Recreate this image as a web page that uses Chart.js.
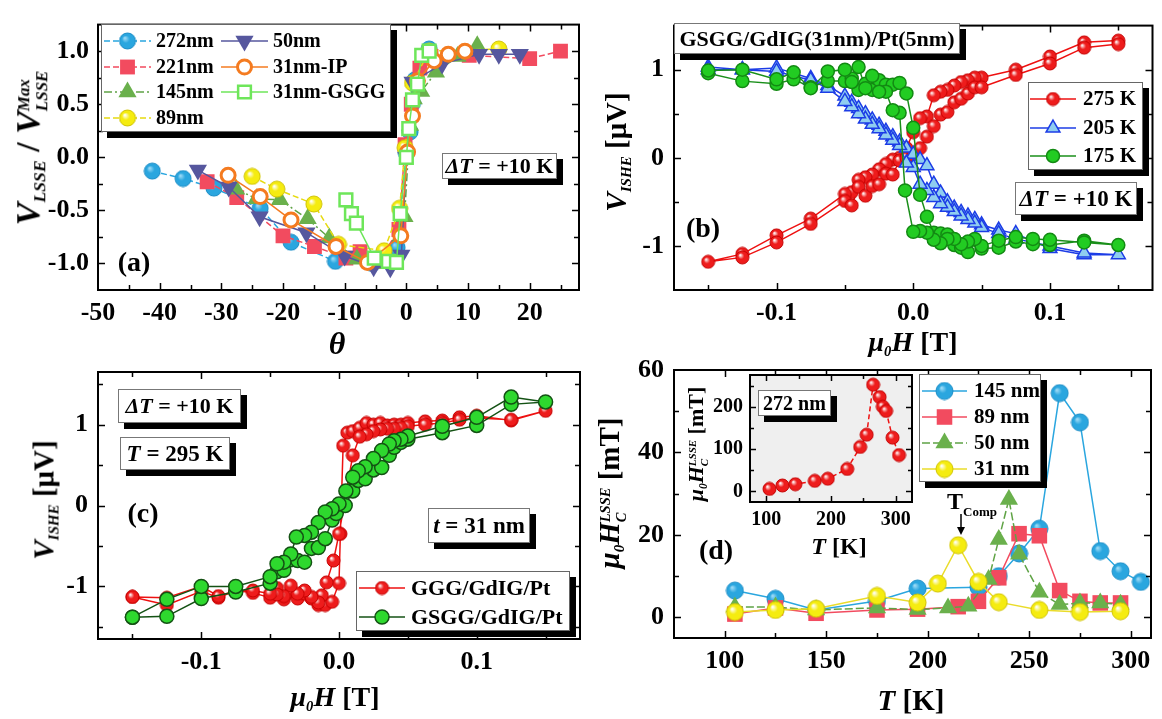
<!DOCTYPE html>
<html>
<head>
<meta charset="utf-8">
<script src="https://cdn.jsdelivr.net/npm/chart.js@4.4.1/dist/chart.umd.min.js"></script>
<style>
  html, body { margin: 0; padding: 0; background: #fff; }
  #fig { position: relative; width: 1162px; height: 719px; overflow: hidden; background: #fff;
         font-family: "Liberation Serif", "Times New Roman", serif; font-weight: bold; color: #000; }
  #fig canvas { position: absolute; left: 0; top: 0; }
  .box { position: absolute; background: #fff; border: 1px solid #777; box-shadow: 6px 6px 0 #000;
         display: flex; align-items: center; justify-content: center; white-space: nowrap; box-sizing: border-box; }
  .lbl { position: absolute; white-space: nowrap; transform: translate(-50%, -50%); line-height: 1; }
  .rot { transform: translate(-50%, -50%) rotate(-90deg); }
  .sb { font-size: 0.52em; position: relative; top: 0.35em; font-style: italic; }
  .stk { display: inline-block; vertical-align: -0.45em; font-size: 0.5em; font-style: italic; line-height: 1.05; text-align: left; }
  .stk span { display: block; }
  i { font-style: italic; }
</style>
</head>
<body>
<div id="fig">
  <canvas id="ca" width="1162" height="719"></canvas>
  <canvas id="cb" width="1162" height="719"></canvas>
  <canvas id="cc" width="1162" height="719"></canvas>
  <canvas id="cd" width="1162" height="719"></canvas>
  <canvas id="ci" width="1162" height="719"></canvas>

  <!-- panel (a) -->
  <div class="lbl rot" style="left:31px;top:148px;font-size:34px;"><i>V</i><span class="sb">LSSE</span> / <i>V</i><span class="stk"><span>Max</span><span>LSSE</span></span></div>
  <div class="lbl" style="left:337px;top:343px;font-size:32px;"><i>θ</i></div>
  <div class="lbl" style="left:134px;top:262px;font-size:28px;">(a)</div>
  <div class="box" style="left:442px;top:153px;width:115px;height:26px;font-size:22px;"><span><i>ΔT</i> = +10 K</span></div>

  <!-- panel (b) -->
  <div class="lbl rot" style="left:616px;top:152px;font-size:29px;"><i>V</i><span class="sb">ISHE</span> [μV]</div>
  <div class="lbl" style="left:913px;top:342px;font-size:28px;"><i>μ</i><span class="sb">0</span><i>H</i> [T]</div>
  <div class="lbl" style="left:703px;top:228px;font-size:28px;">(b)</div>
  <div class="box" style="left:674px;top:23px;width:286px;height:31px;font-size:22px;">GSGG/GdIG(31nm)/Pt(5nm)</div>
  <div class="box" style="left:1015px;top:182px;width:122px;height:33px;font-size:23px;"><span><i>ΔT</i> = +10 K</span></div>

  <!-- panel (c) -->
  <div class="lbl rot" style="left:44px;top:500px;font-size:29px;"><i>V</i><span class="sb">ISHE</span> [μV]</div>
  <div class="lbl" style="left:335px;top:697px;font-size:28px;"><i>μ</i><span class="sb">0</span><i>H</i> [T]</div>
  <div class="lbl" style="left:143px;top:513px;font-size:28px;">(c)</div>
  <div class="box" style="left:118px;top:389px;width:123px;height:34px;font-size:22px;"><span><i>ΔT</i> = +10 K</span></div>
  <div class="box" style="left:120px;top:437px;width:110px;height:33px;font-size:23px;"><span><i>T</i> = 295 K</span></div>
  <div class="box" style="left:428px;top:508px;width:102px;height:35px;font-size:23px;"><span><i>t</i> = 31 nm</span></div>

  <!-- panel (d) -->
  <div class="lbl rot" style="left:612px;top:493px;font-size:29px;"><i>μ</i><span class="sb">0</span><i>H</i><span class="stk"><span>LSSE</span><span>C</span></span> [mT]</div>
  <div class="lbl" style="left:911px;top:700px;font-size:29px;"><i>T</i> [K]</div>
  <div class="lbl" style="left:716px;top:550px;font-size:28px;">(d)</div>
  <div style="position:absolute;left:947px;top:489px;font-size:24px;white-space:nowrap;line-height:1;">T<span style="font-size:13px;position:relative;top:7px;">Comp</span></div>
  <svg style="position:absolute;left:955px;top:514px;" width="12" height="22" viewBox="0 0 12 22">
    <line x1="6" y1="0" x2="6" y2="15" stroke="#000" stroke-width="1.5"/>
    <polygon points="2,13 10,13 6,21" fill="#000"/>
  </svg>

  <!-- inset -->
  <div class="lbl rot" style="left:698px;top:444px;font-size:22px;"><i>μ</i><span class="sb">0</span><i>H</i><span class="stk"><span>LSSE</span><span>C</span></span> [mT]</div>
  <div class="lbl" style="left:839px;top:546px;font-size:24px;"><i>T</i> [K]</div>
  <div class="box" style="left:758px;top:390px;width:73px;height:26px;font-size:20px;">272 nm</div>
</div>

<script>
// ---------- panel (a): normalised LSSE voltage vs angle ----------
const thetaA272 = [-41.2, -36.2, -31.2, -23.7, -18.7, -11.5, -5.5, -1.5, 0, 0.6, 1.0, 1.4, 3.7];
const vA272     = [-0.13, -0.20, -0.29, -0.48, -0.80, -0.98, -1.00, -0.85, 0.04, 0.24, 0.51, 0.73, 1.02];
const thetaA221 = [-32.3, -27.5, -20, -14.9, -9.8, -7.5, -4.5, -1.2, -0.2, 0.8, 2.2, 4, 10.2, 20, 25];
const vA221     = [-0.23, -0.38, -0.74, -0.84, -0.95, -0.89, -0.98, -0.68, 0.12, 0.50, 0.84, 0.95, 0.96, 0.93, 1.00];
const thetaA145 = [-27.6, -24.3, -20.5, -16, -12.5, -8, -4, -0.3, 0.6, 1.2, 2.4, 4.8, 8.3, 11.5];
const vA145     = [-0.30, -0.39, -0.40, -0.58, -0.76, -0.96, -1.00, -0.56, 0.30, 0.55, 0.62, 0.80, 0.95, 1.05];
const thetaA89  = [-25, -21, -15, -11, -3.6, -1.1, -0.2, 1, 3.7, 15];
const vA89      = [-0.18, -0.30, -0.44, -0.82, -0.88, -0.48, 0.09, 0.70, 1.00, 1.02];
const thetaA50  = [-33.8, -28.8, -23.8, -16.2, -10, -5.3, -2.6, -0.8, 0, 1, 5.8, 11.8, 15, 18.4];
const vA50      = [-0.12, -0.28, -0.56, -0.71, -0.93, -1.03, -1.04, -0.92, 0.00, 0.71, 0.88, 0.97, 0.97, 0.97];
const thetaAIP  = [-28.9, -23.7, -18.7, -11.4, -6.3, -0.9, 0.2, 1.0, 1.8, 4.5, 6.8, 9.5];
const vAIP      = [-0.17, -0.37, -0.59, -0.84, -0.99, -0.74, 0.05, 0.39, 0.72, 0.91, 0.97, 1.00];
const thetaAGS  = [-9.8, -8.9, -8.1, -5.2, -2.9, -1.6, -1.0, 0.0, 0.4, 1.0, 1.8, 2.5, 3.7];
const vAGS      = [-0.40, -0.53, -0.62, -0.95, -0.98, -0.99, -0.53, 0.00, 0.27, 0.54, 0.69, 0.96, 1.00];
const ticksAX = [-50, -40, -30, -20, -10, 0, 10, 20];
const ticksAY = [-1.0, -0.5, 0.0, 0.5, 1.0];

// ---------- panel (b): ISHE loops of GSGG/GdIG(31nm)/Pt(5nm) ----------
const hB275 = [0.15, 0.125, 0.1, 0.075, 0.05, 0.045, 0.04, 0.035, 0.03, 0.025, 0.02, 0.015, 0.01, 0.005, 0, -0.005, -0.01, -0.015, -0.02, -0.025, -0.03, -0.035, -0.04, -0.045, -0.05, -0.075, -0.1, -0.125, -0.15,
               -0.125, -0.1, -0.075, -0.05, -0.045, -0.04, -0.035, -0.03, -0.025, -0.02, -0.015, -0.01, -0.005, 0, 0.005, 0.01, 0.015, 0.02, 0.025, 0.03, 0.035, 0.04, 0.045, 0.05, 0.075, 0.1, 0.125, 0.15];
const vB275 = [1.33, 1.31, 1.15, 1.00, 0.91, 0.91, 0.88, 0.86, 0.82, 0.77, 0.75, 0.71, 0.47, 0.45, 0.29, 0.11, 0.00, -0.02, -0.07, -0.13, -0.19, -0.22, -0.25, -0.39, -0.41, -0.69, -0.88, -1.09, -1.18,
               -1.13, -0.96, -0.75, -0.49, -0.54, -0.33, -0.43, -0.32, -0.30, -0.18, -0.19, -0.03, 0.00, 0.03, 0.11, 0.24, 0.36, 0.49, 0.52, 0.63, 0.67, 0.73, 0.80, 0.80, 0.94, 1.07, 1.25, 1.29];
const hB205 = [-0.15, -0.125, -0.1, -0.075, -0.0625, -0.05, -0.045, -0.04, -0.035, -0.03, -0.025, -0.02, -0.015, -0.01, -0.005, 0, 0.005, 0.01, 0.015, 0.02, 0.025, 0.03, 0.035, 0.04, 0.045, 0.05, 0.0625, 0.075, 0.1, 0.125, 0.15,
               0.125, 0.1, 0.075, 0.0625, 0.05, 0.045, 0.04, 0.035, 0.03, 0.025, 0.02, 0.015, 0.01, 0.005, 0, -0.005, -0.01, -0.015, -0.02, -0.025, -0.03, -0.035, -0.04, -0.045, -0.05, -0.0625, -0.075, -0.1, -0.125, -0.15];
const vB205 = [1.03, 1.00, 1.02, 0.90, 0.82, 0.70, 0.63, 0.56, 0.50, 0.43, 0.37, 0.30, 0.24, 0.18, 0.11, 0.04, -0.02, -0.09, -0.30, -0.40, -0.50, -0.57, -0.62, -0.66, -0.70, -0.76, -0.82, -0.86, -1.03, -1.10, -1.10,
               -1.08, -1.00, -0.92, -0.86, -0.79, -0.74, -0.70, -0.66, -0.61, -0.56, -0.52, -0.45, -0.37, -0.30, -0.11, -0.06, 0.14, 0.20, 0.26, 0.33, 0.38, 0.44, 0.50, 0.58, 0.64, 0.79, 0.88, 0.98, 1.00, 1.00];
const hB175 = [-0.15, -0.125, -0.1, -0.0875, -0.075, -0.0625, -0.05, -0.045, -0.04, -0.035, -0.03, -0.025, -0.02, -0.015, -0.01, -0.005, 0, 0.005, 0.01, 0.015, 0.02, 0.025, 0.03, 0.035, 0.04, 0.045, 0.05, 0.0625, 0.075, 0.0875, 0.1, 0.125, 0.15,
               0.125, 0.1, 0.0875, 0.075, 0.0625, 0.05, 0.045, 0.04, 0.035, 0.03, 0.025, 0.02, 0.015, 0.01, 0.005, 0, -0.006, -0.01, -0.015, -0.02, -0.025, -0.03, -0.035, -0.04, -0.045, -0.05, -0.0625, -0.075, -0.0875, -0.1, -0.125, -0.15];
const vB175 = [0.96, 0.87, 0.84, 0.89, 0.80, 0.87, 0.87, 0.90, 0.77, 0.84, 0.77, 0.88, 0.83, 0.83, 0.85, 0.73, 0.34, -0.42, -0.67, -0.85, -0.86, -0.87, -0.99, -1.02, -1.07, -0.93, -1.03, -1.02, -0.95, -0.98, -0.99, -0.94, -0.99,
               -0.96, -0.93, -0.92, -0.90, -0.94, -1.00, -0.92, -0.95, -0.98, -0.92, -0.92, -0.97, -0.93, -0.85, -0.83, -0.84, -0.37, 0.51, 0.54, 0.75, 0.75, 0.93, 0.79, 1.03, 0.86, 1.00, 0.98, 0.79, 0.97, 0.89, 1.00, 0.99];
const ticksBX = [-0.1, 0.0, 0.1];
const ticksBY = [-1, 0, 1];

// ---------- panel (c): ISHE loops at 295 K, t = 31 nm ----------
const hCGGG = [-0.15, -0.125, -0.1, -0.0875, -0.075, -0.0625, -0.05, -0.045, -0.04, -0.035, -0.03, -0.025, -0.02, -0.015, -0.01, -0.005, 0, 0.001, 0.003, 0.006, 0.01, 0.015, 0.02, 0.025, 0.03, 0.035, 0.04, 0.045, 0.05, 0.0625, 0.075, 0.0875, 0.1, 0.125, 0.15,
               0.125, 0.1, 0.0875, 0.075, 0.0625, 0.05, 0.045, 0.04, 0.035, 0.03, 0.025, 0.02, 0.015, 0.01, 0.0, -0.004, -0.009, -0.0125, -0.015, -0.02, -0.025, -0.03, -0.035, -0.04, -0.045, -0.05, -0.0625, -0.075, -0.0875, -0.1, -0.125, -0.15];
const vCGGG = [-1.13, -1.23, -1.06, -1.14, -1.05, -1.08, -1.14, -1.02, -1.16, -1.07, -1.15, -1.09, -1.15, -1.23, -1.23, -1.19, -0.96, -0.35, 0.74, 0.90, 0.92, 0.96, 1.02, 1.00, 1.02, 0.99, 1.00, 1.00, 1.02, 1.04, 1.05, 1.09, 1.11, 1.05, 1.17,
               1.06, 1.08, 1.06, 1.02, 1.00, 0.98, 0.96, 0.95, 0.95, 0.94, 0.92, 0.88, 0.85, 0.62, -0.35, -0.68, -0.95, -1.11, -1.20, -1.13, -1.05, -1.09, -0.99, -1.12, -1.10, -1.09, -1.05, -1.05, -1.12, -1.00, -1.14, -1.13];
const hCGSGG = [-0.15, -0.125, -0.1, -0.075, -0.05, -0.045, -0.04, -0.035, -0.03, -0.025, -0.02, -0.015, -0.01, -0.005, -0.002, 0.0045, 0.01, 0.014, 0.019, 0.025, 0.031, 0.0365, 0.04, 0.045, 0.05, 0.075, 0.1, 0.125, 0.15,
                0.125, 0.1, 0.075, 0.05, 0.045, 0.04, 0.0365, 0.031, 0.025, 0.019, 0.014, 0.01, 0.005, 0, -0.005, -0.01, -0.015, -0.02, -0.025, -0.031, -0.035, -0.04, -0.045, -0.05, -0.075, -0.1, -0.125, -0.15];
const vCGSGG = [-1.38, -1.37, -1.15, -1.07, -0.96, -0.82, -0.80, -0.67, -0.68, -0.70, -0.53, -0.52, -0.41, -0.18, -0.10, 0.00, 0.18, 0.31, 0.33, 0.44, 0.47, 0.62, 0.72, 0.78, 0.82, 0.90, 0.99, 1.25, 1.28,
                1.34, 1.09, 0.98, 0.86, 0.82, 0.80, 0.76, 0.68, 0.58, 0.48, 0.43, 0.35, 0.18, 0.02, -0.04, -0.08, -0.21, -0.33, -0.37, -0.39, -0.60, -0.70, -0.72, -0.88, -1.00, -1.00, -1.16, -1.38];
const ticksCX = [-0.1, 0.0, 0.1];
const ticksCY = [-1, 0, 1];

// ---------- panel (d): coercive field vs temperature ----------
const tD145 = [105, 125, 145, 175, 195, 225, 235, 245, 255, 265, 275, 285, 295, 305];
const hcD145 = [6.5, 4.5, 1.8, 4.0, 7.0, 7.3, 10.0, 15.5, 21.5, 54.4, 47.3, 16.1, 11.2, 8.6];
const tD89 = [105, 125, 145, 175, 195, 215, 225, 235, 245, 255, 265, 275, 285, 295];
const hcD89 = [0.8, 2.3, 1.0, 1.8, 2.0, 2.6, 3.9, 9.6, 20.3, 19.8, 6.5, 3.9, 3.5, 3.5];
const tD50 = [105, 125, 145, 175, 195, 210, 220, 230, 235, 240, 245, 255, 265, 275, 285, 295];
const hcD50 = [2.5, 2.5, 1.8, 2.3, 1.9, 2.3, 2.7, 9.2, 18.9, 28.6, 15.3, 6.1, 3.1, 3.5, 3.5, 3.2];
const tD31 = [105, 125, 145, 175, 195, 205, 215, 225, 235, 255, 275, 295];
const hcD31 = [1.3, 1.8, 2.1, 5.2, 3.6, 8.2, 17.5, 8.6, 3.7, 1.8, 1.3, 1.5];
const ticksDX = [100, 150, 200, 250, 300];
const ticksDY = [0, 20, 40, 60];

// inset: 272 nm film
const tI272 = [105, 125, 145, 175, 195, 225, 245, 255, 265, 275, 280, 285, 295, 305];
const hcI272 = [6, 14, 17, 25, 30, 53, 105, 134, 252, 223, 200, 190, 127, 86];
const ticksIX = [100, 200, 300];
const ticksIY = [0, 100, 200];

// ---------- helpers ----------
const FONT = '"Liberation Serif", "Times New Roman", serif';
const W = 1162, H = 719;

// shaded ball marker used as a point style
function ball(fill, r, edge, light) {
  const s = Math.ceil(2 * r + 2);
  const c = document.createElement('canvas');
  c.width = s; c.height = s;
  const g = c.getContext('2d');
  const m = s / 2;
  const grad = g.createRadialGradient(m - r * 0.35, m - r * 0.38, r * 0.05, m, m, r);
  grad.addColorStop(0, light);
  grad.addColorStop(0.45, fill);
  grad.addColorStop(1, fill);
  g.beginPath();
  g.arc(m, m, r, 0, Math.PI * 2);
  g.fillStyle = grad;
  g.fill();
  g.lineWidth = 1;
  g.strokeStyle = edge;
  g.stroke();
  return c;
}

function pts(xs, ys) { return xs.map((x, i) => ({ x, y: ys[i] })); }

function series(label, xs, ys, st) {
  return Object.assign({
    label, data: pts(xs, ys), showLine: true, tension: 0, borderWidth: 1.5,
    pointBorderWidth: 0, pointHoverRadius: 0, fill: false
  }, st);
}

function drawLegend(chart, L) {
  const ctx = chart.ctx;
  ctx.save();
  ctx.fillStyle = '#000';
  ctx.fillRect(L.x + 6, L.y + 6, L.w, L.h);
  ctx.fillStyle = '#fff';
  ctx.fillRect(L.x, L.y, L.w, L.h);
  ctx.lineWidth = 1;
  ctx.strokeStyle = '#666';
  ctx.strokeRect(L.x + 0.5, L.y + 0.5, L.w - 1, L.h - 1);
  L.items.forEach(it => {
    const ds = chart.data.datasets[it.ds];
    ctx.save();
    ctx.strokeStyle = ds.borderColor;
    ctx.lineWidth = ds.borderWidth;
    ctx.setLineDash(ds.borderDash || []);
    ctx.beginPath();
    ctx.moveTo(it.x, it.y);
    ctx.lineTo(it.x + L.lineLen, it.y);
    ctx.stroke();
    ctx.setLineDash([]);
    ctx.fillStyle = ds.pointBackgroundColor || '#000';
    ctx.strokeStyle = ds.pointBorderColor || '#000';
    ctx.lineWidth = ds.pointBorderWidth || 0;
    Chart.helpers.drawPoint(ctx, {
      pointStyle: ds.pointStyle, radius: ds.pointRadius, rotation: ds.pointRotation || 0,
      borderWidth: ds.pointBorderWidth || 0
    }, it.x + L.lineLen / 2, it.y);
    ctx.restore();
    ctx.font = L.font;
    ctx.fillStyle = '#000';
    ctx.textAlign = 'left';
    ctx.textBaseline = 'middle';
    ctx.fillText(ds.label, it.x + L.lineLen + L.gap, it.y + 1);
  });
  ctx.restore();
}

// plot frame with inward ticks on all four sides, optional plot background and legend
const deco = {
  id: 'deco',
  beforeDatasetsDraw(chart, args, o) {
    if (!o.bg) return;
    const a = chart.chartArea, ctx = chart.ctx;
    ctx.save();
    ctx.fillStyle = o.bg;
    ctx.fillRect(a.left, a.top, a.right - a.left, a.bottom - a.top);
    ctx.restore();
  },
  afterDatasetsDraw(chart, args, o) {
    const { ctx, chartArea: a, scales: { x, y } } = chart;
    const marks = (sc, minor) => {
      const major = sc.ticks.map(t => t.value);
      const out = major.map(v => [v, o.majorLen]);
      if (minor) {
        const n0 = Math.ceil(sc.min / minor - 1e-6), n1 = Math.floor(sc.max / minor + 1e-6);
        for (let n = n0; n <= n1; n++) {
          const v = n * minor;
          if (!major.some(m => Math.abs(m - v) < minor / 100)) out.push([v, o.minorLen]);
        }
      }
      return out;
    };
    ctx.save();
    ctx.strokeStyle = '#000';
    ctx.lineWidth = 1.5;
    ctx.beginPath();
    marks(x, o.minorX).forEach(([v, len]) => {
      const p = Math.round(x.getPixelForValue(v)) + 0.5;
      if (p < a.left + 2 || p > a.right - 2) return;
      ctx.moveTo(p, a.bottom); ctx.lineTo(p, a.bottom - len);
      ctx.moveTo(p, a.top); ctx.lineTo(p, a.top + len);
    });
    marks(y, o.minorY).forEach(([v, len]) => {
      const p = Math.round(y.getPixelForValue(v)) + 0.5;
      if (p < a.top + 2 || p > a.bottom - 2) return;
      ctx.moveTo(a.left, p); ctx.lineTo(a.left + len, p);
      ctx.moveTo(a.right, p); ctx.lineTo(a.right - len, p);
    });
    ctx.stroke();
    ctx.lineWidth = 2;
    ctx.strokeRect(a.left, a.top, a.right - a.left, a.bottom - a.top);
    ctx.restore();
    if (o.legend) drawLegend(chart, o.legend);
  }
};

function makeChart(id, area, cfg) {
  const YW = 60, XH = 40;
  const font = { family: FONT, size: cfg.fs, weight: 'bold' };
  return new Chart(document.getElementById(id), {
    type: 'line',
    data: { datasets: cfg.datasets },
    options: {
      responsive: false, animation: false, devicePixelRatio: 1, events: [],
      layout: { padding: { left: area.l - YW, top: area.t, right: W - area.r, bottom: H - area.b - XH } },
      plugins: { legend: { display: false }, tooltip: { enabled: false }, deco: cfg.deco },
      scales: {
        x: {
          type: 'linear', min: cfg.x.min, max: cfg.x.max,
          afterBuildTicks: s => { s.ticks = cfg.x.ticks.map(v => ({ value: v })); },
          afterFit: s => { s.height = XH; },
          grid: { display: false, drawTicks: false }, border: { display: false },
          ticks: { font, color: '#000', padding: cfg.x.pad, maxRotation: 0, autoSkip: false, callback: cfg.x.fmt }
        },
        y: {
          type: 'linear', min: cfg.y.min, max: cfg.y.max,
          afterBuildTicks: s => { s.ticks = cfg.y.ticks.map(v => ({ value: v })); },
          afterFit: s => { s.width = YW; },
          grid: { display: false, drawTicks: false }, border: { display: false },
          ticks: { font, color: '#000', padding: cfg.y.pad, autoSkip: false, callback: cfg.y.fmt }
        }
      }
    },
    plugins: [deco]
  });
}

// ---------- markers ----------
const blueBall = ball('#2aa6df', 8, '#1a8cc6', '#9fdcf7');
const yellowBall = ball('#f5ec10', 8, '#cfc200', '#ffffff');
const redBall = ball('#ee1c1c', 6.5, '#c40000', '#ffffff');
const blueBallD = ball('#2aa6df', 8.5, '#1a8cc6', '#9fdcf7');
const yellowBallD = ball('#f5ec10', 8.5, '#cfc200', '#ffffff');
const redBallI = ball('#ee1c1c', 6.5, '#c40000', '#ffffff');

// ---------- panel (a) ----------
makeChart('ca', { l: 98, t: 23, r: 579, b: 290 }, {
  fs: 26,
  x: { min: -50, max: 28, ticks: ticksAX, pad: 8, fmt: v => String(v) },
  y: { min: -1.25, max: 1.25, ticks: ticksAY, pad: 9, fmt: v => v.toFixed(1) },
  datasets: [
    series('272nm', thetaA272, vA272, { order: 6, pointStyle: blueBall, pointRadius: 8, borderColor: '#2aa6df', borderDash: [6, 3] }),
    series('221nm', thetaA221, vA221, { order: 5, pointStyle: 'rect', pointRadius: 10.5, pointBackgroundColor: '#f24b5f', pointBorderColor: '#f24b5f', borderColor: '#f24b5f', borderDash: [6, 3] }),
    series('145nm', thetaA145, vA145, { order: 4, pointStyle: 'triangle', pointRadius: 10.5, pointBackgroundColor: '#6ab04c', pointBorderColor: '#6ab04c', borderColor: '#5fa345', borderDash: [8, 3, 2, 3] }),
    series('89nm', thetaA89, vA89, { order: 3, pointStyle: yellowBall, pointRadius: 8, borderColor: '#e6da10', borderDash: [6, 3] }),
    series('50nm', thetaA50, vA50, { order: 2, pointStyle: 'triangle', pointRotation: 180, pointRadius: 10.5, pointBackgroundColor: '#56579e', pointBorderColor: '#56579e', borderColor: '#56579e' }),
    series('31nm-IP', thetaAIP, vAIP, { order: 1, pointStyle: 'circle', pointRadius: 7, pointBackgroundColor: '#ffffff', pointBorderColor: '#f47b20', pointBorderWidth: 3, borderColor: '#f47b20' }),
    series('31nm-GSGG', thetaAGS, vAGS, { order: 0, pointStyle: 'rect', pointRadius: 9, pointBackgroundColor: '#ffffff', pointBorderColor: '#6ee65a', pointBorderWidth: 2.5, borderColor: '#6ee65a' })
  ],
  deco: {
    majorLen: 7, minorLen: 5, minorX: 5, minorY: 0.25,
    legend: {
      x: 101, y: 24, w: 290, h: 108, lineLen: 47, gap: 5, font: 'bold 20px ' + FONT,
      items: [
        { ds: 0, x: 104, y: 41 }, { ds: 1, x: 104, y: 67 }, { ds: 2, x: 104, y: 92 }, { ds: 3, x: 104, y: 118 },
        { ds: 4, x: 221, y: 41 }, { ds: 5, x: 221, y: 67 }, { ds: 6, x: 221, y: 92 }
      ]
    }
  }
});

// ---------- panel (b) ----------
makeChart('cb', { l: 674, t: 23, r: 1155, b: 290 }, {
  fs: 26,
  x: { min: -0.175, max: 0.175, ticks: ticksBX, pad: 8, fmt: v => v.toFixed(1) },
  y: { min: -1.5, max: 1.5, ticks: ticksBY, pad: 10, fmt: v => String(v) },
  datasets: [
    series('275 K', hB275, vB275, { order: 2, pointStyle: redBall, pointRadius: 6.5, borderColor: '#ee1111' }),
    series('205 K', hB205, vB205, { order: 1, pointStyle: 'triangle', pointRadius: 8, pointBackgroundColor: '#8fcdf0', pointBorderColor: '#1c3ce6', pointBorderWidth: 1.5, borderColor: '#1c3ce6' }),
    series('175 K', hB175, vB175, { order: 0, pointStyle: 'circle', pointRadius: 6.5, pointBackgroundColor: '#22cc22', pointBorderColor: '#138a13', pointBorderWidth: 1.5, borderColor: '#1a8f1a' })
  ],
  deco: {
    majorLen: 7, minorLen: 5, minorX: 0.05, minorY: 0.5,
    legend: {
      x: 1028, y: 82, w: 115, h: 88, lineLen: 46, gap: 7, font: 'bold 21px ' + FONT,
      items: [{ ds: 0, x: 1030, y: 99 }, { ds: 1, x: 1030, y: 128 }, { ds: 2, x: 1030, y: 156 }]
    }
  }
});

// ---------- panel (c) ----------
makeChart('cc', { l: 98, t: 372, r: 580, b: 639 }, {
  fs: 26,
  x: { min: -0.175, max: 0.175, ticks: ticksCX, pad: 8, fmt: v => v.toFixed(1) },
  y: { min: -1.65, max: 1.65, ticks: ticksCY, pad: 10, fmt: v => String(v) },
  datasets: [
    series('GGG/GdIG/Pt', hCGGG, vCGGG, { order: 1, pointStyle: redBall, pointRadius: 6.5, borderColor: '#ee1111' }),
    series('GSGG/GdIG/Pt', hCGSGG, vCGSGG, { order: 0, pointStyle: 'circle', pointRadius: 7, pointBackgroundColor: '#2ed82e', pointBorderColor: '#145214', pointBorderWidth: 1.5, borderColor: '#145214' })
  ],
  deco: {
    majorLen: 7, minorLen: 5, minorX: 0.05, minorY: 0.5,
    legend: {
      x: 356, y: 571, w: 214, h: 60, lineLen: 46, gap: 6, font: 'bold 22px ' + FONT,
      items: [{ ds: 0, x: 359, y: 588 }, { ds: 1, x: 359, y: 617 }]
    }
  }
});

// ---------- panel (d) ----------
makeChart('cd', { l: 674, t: 370, r: 1155, b: 638 }, {
  fs: 26,
  x: { min: 75, max: 310, ticks: ticksDX, pad: 8, fmt: v => String(v) },
  y: { min: -5, max: 60, ticks: ticksDY, pad: 10, fmt: v => String(v) },
  datasets: [
    series('145 nm', tD145, hcD145, { order: 3, pointStyle: blueBallD, pointRadius: 8.5, borderColor: '#2aa6df' }),
    series('89 nm', tD89, hcD89, { order: 2, pointStyle: 'rect', pointRadius: 11, pointBackgroundColor: '#f24b5f', pointBorderColor: '#f24b5f', borderColor: '#f24b5f' }),
    series('50 nm', tD50, hcD50, { order: 1, pointStyle: 'triangle', pointRadius: 10.5, pointBackgroundColor: '#6ab04c', pointBorderColor: '#6ab04c', borderColor: '#5fa345', borderDash: [8, 3] }),
    series('31 nm', tD31, hcD31, { order: 0, pointStyle: yellowBallD, pointRadius: 8.5, borderColor: '#eadc2a' })
  ],
  deco: {
    majorLen: 7, minorLen: 5, minorX: 25, minorY: 10,
    legend: {
      x: 919, y: 374, w: 122, h: 108, lineLen: 45, gap: 7, font: 'bold 21px ' + FONT,
      items: [{ ds: 0, x: 922, y: 391 }, { ds: 1, x: 922, y: 417 }, { ds: 2, x: 922, y: 443 }, { ds: 3, x: 922, y: 469 }]
    }
  }
});

// ---------- inset ----------
makeChart('ci', { l: 750, t: 375, r: 912, b: 502 }, {
  fs: 20,
  x: { min: 75, max: 325, ticks: ticksIX, pad: 6, fmt: v => String(v) },
  y: { min: -25, max: 275, ticks: ticksIY, pad: 7, fmt: v => String(v) },
  datasets: [
    series('272 nm', tI272, hcI272, { pointStyle: redBallI, pointRadius: 6.5, borderColor: '#ee1111', borderDash: [5, 3] })
  ],
  deco: { majorLen: 6, minorLen: 4, minorX: 50, minorY: 50, bg: '#efefef' }
});
</script>
</body>
</html>
